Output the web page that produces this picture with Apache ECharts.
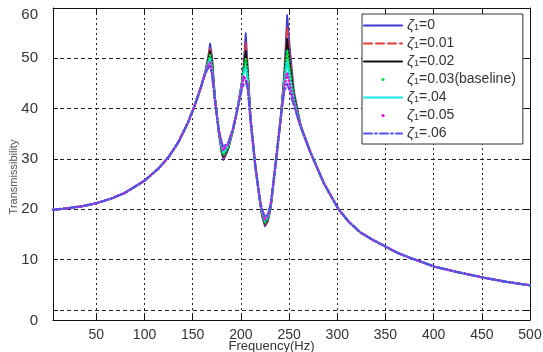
<!DOCTYPE html>
<html>
<head>
<meta charset="utf-8">
<script src="https://cdn.jsdelivr.net/npm/echarts@6/dist/echarts.min.js"></script>
<style>html,body{margin:0;padding:0;background:#fff}#c{width:543px;height:352px}</style>
</head>
<body>
<div id="c"></div>
<script>
const freq = [5,20,35,50,65,80,100,115,125,135,145,152,158,163,166,168,170,173,177,180,182,184,187,192,197,201,203,205,207,210,215,220,222,225,228,231,236,241,245,248,251,255,262,272,286,301,312,324,337,351,363,375,401,425,452,475,500];
const z0 = [19.9,20.2,20.6,21.2,22.1,23.3,25.7,28.2,30.4,33.3,37.2,40.6,44.0,47.4,50.2,52.9,50.5,42.5,35.2,31.2,29.8,30.6,32.0,35.8,40.6,45.3,49.0,55.0,48.5,38.5,28.5,21.1,18.6,16.6,17.6,20.3,29.0,37.5,47.0,58.6,51.5,43.5,36.7,31.4,25.2,20.1,17.5,15.4,13.9,12.5,11.3,10.4,8.6,7.5,6.4,5.6,4.9];
const z1 = [19.9,20.2,20.6,21.2,22.1,23.3,25.7,28.2,30.4,33.3,37.2,40.6,44.0,47.3,50.0,52.2,49.8,42.3,35.3,31.5,30.2,30.9,32.2,35.9,40.6,45.2,48.7,53.2,47.8,38.3,28.5,21.2,18.8,16.9,17.8,20.4,29.0,37.5,46.5,56.2,50.0,43.0,36.6,31.4,25.2,20.1,17.5,15.4,13.9,12.5,11.3,10.4,8.6,7.5,6.4,5.6,4.9];
const z2 = [19.9,20.2,20.6,21.2,22.1,23.3,25.7,28.2,30.4,33.3,37.2,40.6,44.0,47.3,49.6,51.4,49.1,42.2,35.4,31.8,30.5,31.2,32.3,35.9,40.5,45.1,48.3,51.5,47.2,38.2,28.5,21.2,19.0,17.1,18.0,20.5,29.0,37.5,46.0,53.9,48.5,42.5,36.6,31.4,25.2,20.1,17.5,15.4,13.9,12.5,11.3,10.4,8.6,7.5,6.4,5.6,4.9];
const z3 = [19.9,20.2,20.6,21.2,22.1,23.3,25.7,28.2,30.4,33.3,37.2,40.6,44.0,47.2,49.3,50.6,48.5,42.0,35.5,32.1,30.8,31.5,32.5,36.0,40.5,45.0,47.8,49.8,46.5,38.0,28.5,21.3,19.2,17.4,18.2,20.6,29.0,37.5,45.5,51.6,47.0,42.0,36.5,31.4,25.2,20.1,17.5,15.4,13.9,12.5,11.3,10.4,8.6,7.5,6.4,5.6,4.9];
const z4 = [19.9,20.2,20.6,21.2,22.1,23.3,25.7,28.2,30.4,33.3,37.2,40.6,44.0,47.1,48.9,49.8,47.8,41.8,35.7,32.5,31.3,32.0,32.8,36.1,40.4,44.8,47.2,48.2,45.6,37.8,28.5,21.4,19.5,17.7,18.5,20.8,29.0,37.5,44.9,49.4,45.6,41.5,36.4,31.4,25.2,20.1,17.5,15.4,13.9,12.5,11.3,10.4,8.6,7.5,6.4,5.6,4.9];
const z5 = [19.9,20.2,20.6,21.2,22.1,23.3,25.7,28.2,30.4,33.3,37.2,40.6,44.0,47.0,48.5,49.1,47.2,41.7,35.8,33.0,31.8,32.4,33.0,36.2,40.4,44.5,46.5,46.7,44.8,37.6,28.5,21.5,19.8,18.0,18.8,21.0,29.0,37.5,44.2,47.2,44.4,41.0,36.4,31.4,25.2,20.1,17.5,15.4,13.9,12.5,11.3,10.4,8.6,7.5,6.4,5.6,4.9];
const z6 = [19.9,20.2,20.6,21.2,22.1,23.3,25.7,28.2,30.4,33.3,37.2,40.6,44.0,46.9,48.0,48.4,46.6,41.5,36.0,33.4,32.3,32.9,33.3,36.3,40.3,43.8,44.8,45.3,43.8,37.4,28.5,21.6,20.1,18.4,19.1,21.2,29.0,37.5,43.3,45.0,43.0,40.5,36.3,31.4,25.2,20.1,17.5,15.4,13.9,12.5,11.3,10.4,8.6,7.5,6.4,5.6,4.9];
const seriesNames = ['ζ1=0','ζ1=0.01','ζ1=0.02','ζ1=0.03(baseline)','ζ1=.04','ζ1=0.05','ζ1=.06'];
const xTicks = [50,100,150,200,250,300,350,400,450,500];
const yTicks = [0,10,20,30,40,50,60];
const xLabel = 'Frequency(Hz)';
const yLabel = 'Transmissibility';

const allData = [z0,z1,z2,z3,z4,z5,z6];
const styles = [
  {color:'#3a3ad8', type:'solid', width:1.8, dots:false},
  {color:'#e23a3a', type:[8,4], width:1.8, dots:false},
  {color:'#111111', type:'solid', width:1.8, dots:false},
  {color:'#00e040', type:[0.5,3], width:2.6, dots:true},
  {color:'#10e8e8', type:'solid', width:1.8, dots:false},
  {color:'#e010e0', type:[0.5,3], width:2.6, dots:true},
  {color:'#5050f0', type:[8,3,2,3], width:1.8, dots:false}
];
const FONT = 'Liberation Sans, Arial, sans-serif';

const series = allData.map((d, i) => ({
  name: seriesNames[i],
  type: 'line',
  data: freq.map((f, j) => [f, d[j]]),
  symbol: 'circle',
  symbolSize: 3,
  showSymbol: false,
  smooth: false,
  z: 2 + i,
  lineStyle: {color: styles[i].color, width: styles[i].width, type: styles[i].type, cap: 'round', join: 'round'},
  itemStyle: {color: styles[i].color},
  emphasis: {disabled: true},
  animation: false
}));

const legendData = seriesNames.map((n, i) => styles[i].dots
  ? {name: n, lineStyle: {opacity: 0}, itemStyle: {color: styles[i].color}}
  : {name: n, itemStyle: {opacity: 0}});

const chart = echarts.init(document.getElementById('c'), null, {renderer: 'canvas'});
chart.setOption({
  animation: false,
  backgroundColor: '#fff',
  textStyle: {fontFamily: FONT},
  grid: {left: 53, right: 13, top: 8, bottom: 32, containLabel: false, outerBoundsMode: 'none'},
  xAxis: [{
    type: 'value', min: 5, max: 500,
    axisLine: {show: true, onZero: false, lineStyle: {color: '#111', width: 1}},
    axisTick: {show: true, inside: true, length: 5, customValues: xTicks, lineStyle: {color: '#111'}},
    axisLabel: {customValues: xTicks, color: '#333', fontSize: 14, fontFamily: FONT, margin: 8},
    splitLine: {show: true, lineStyle: {color: '#222', type: [2,3], width: 1}}
  }, {
    type: 'value', position: 'top', min: 5, max: 500,
    axisLine: {show: true, onZero: false, lineStyle: {color: '#111', width: 1}},
    axisTick: {show: true, inside: true, length: 5, customValues: xTicks, lineStyle: {color: '#111'}},
    axisLabel: {show: false},
    splitLine: {show: false}
  }],
  yAxis: [{
    type: 'value', min: -2, max: 60,
    axisLine: {show: true, onZero: false, lineStyle: {color: '#111', width: 1}},
    axisTick: {show: true, inside: true, length: 5, customValues: yTicks, lineStyle: {color: '#111'}},
    axisLabel: {
      customValues: yTicks, color: '#333', fontSize: 15, fontFamily: FONT, margin: 15,
      formatter: v => v === 60 ? '{t|60}' : (v === 0 ? '{z|0}' : String(v)),
      rich: {
        t: {fontSize: 15, color: '#333', fontFamily: FONT, padding: [14,0,0,0]},
        z: {fontSize: 15, color: '#333', fontFamily: FONT, padding: [22,0,0,0]}
      }
    },
    splitLine: {show: true, lineStyle: {color: '#222', type: [4,3], width: 1}}
  }, {
    type: 'value', position: 'right', min: -2, max: 60,
    axisLine: {show: true, onZero: false, lineStyle: {color: '#111', width: 1}},
    axisTick: {show: true, inside: true, length: 5, customValues: yTicks, lineStyle: {color: '#111'}},
    axisLabel: {show: false},
    splitLine: {show: false}
  }],
  legend: {
    show: true,
    left: 362, top: 14,
    orient: 'vertical',
    align: 'left',
    padding: [4, 7, 3, 1],
    itemGap: 3,
    itemWidth: 38,
    itemHeight: 4,
    backgroundColor: '#fff',
    borderColor: '#333',
    borderWidth: 1,
    borderRadius: 0,
    selectedMode: false,
    data: legendData,
    formatter: name => '{a|ζ}{b|1}{c|' + name.slice(2) + '}',
    textStyle: {
      color: '#333', fontSize: 14, fontFamily: FONT,
      rich: {
        a: {fontSize: 15, fontStyle: 'italic', color: '#333', fontFamily: FONT, lineHeight: 14},
        b: {fontSize: 9, color: '#333', fontFamily: FONT, lineHeight: 6, verticalAlign: 'bottom'},
        c: {fontSize: 14, color: '#333', fontFamily: FONT, lineHeight: 14}
      }
    }
  },
  graphic: [
    {type: 'text', left: 'center', top: 340, style: {text: xLabel, fontSize: 13, fill: '#333', fontFamily: FONT}, z: 100},
    {type: 'text', x: 14, y: 177, rotation: Math.PI / 2, style: {text: yLabel, fontSize: 11, fill: '#555', fontFamily: FONT, align: 'center', verticalAlign: 'middle'}, z: 100}
  ],
  series: series
});
</script>
</body>
</html>
